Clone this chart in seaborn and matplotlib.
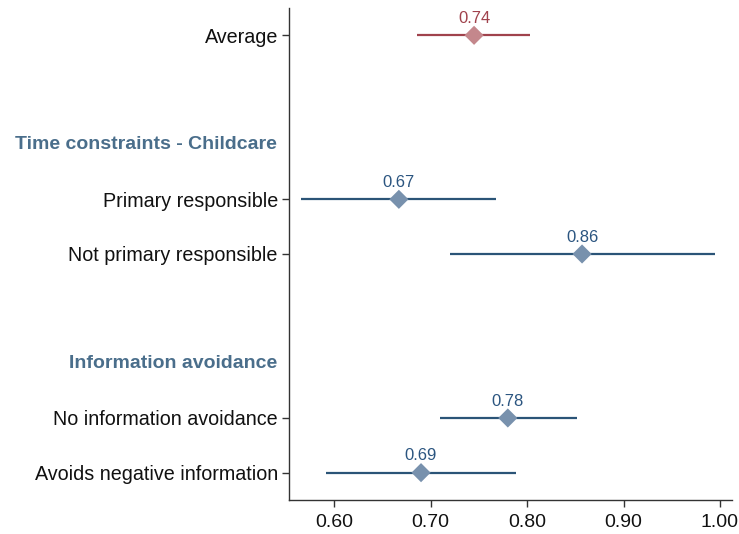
import matplotlib
matplotlib.use("Agg")
import matplotlib.pyplot as plt
import matplotlib.transforms as mtransforms
import seaborn as sns
import pandas as pd

# ---- data ----
row_labels = ["Average", "Primary responsible", "Not primary responsible",
              "No information avoidance", "Avoids negative information"]
row_pos = [0, 3, 4, 7, 8]
estimates = [0.745, 0.667, 0.857, 0.780, 0.690]
ci_low = [0.686, 0.566, 0.720, 0.710, 0.591]
ci_high = [0.803, 0.768, 0.995, 0.852, 0.789]
groups = ["avg", "sub", "sub", "sub", "sub"]
value_labels = ["0.74", "0.67", "0.86", "0.78", "0.69"]
headers = ["Time constraints - Childcare", "Information avoidance"]
header_pos = [2, 6]
x_ticks = [0.60, 0.70, 0.80, 0.90, 1.00]

df = pd.DataFrame({"label": row_labels, "pos": row_pos, "est": estimates,
                   "lo": ci_low, "hi": ci_high, "group": groups, "txt": value_labels})

line_col = {"avg": "#a0424c", "sub": "#2b5477"}
mark_col = {"avg": "#c4878c", "sub": "#7891ad"}
text_col = {"avg": "#a0424c", "sub": "#2b5580"}
header_col = "#4a6e8b"

sns.set_theme(style="white")
plt.rcParams["font.family"] = ["Liberation Sans", "DejaVu Sans"]

fig = plt.figure(figsize=(7.39, 5.34), dpi=100)
ax = fig.add_axes([0.391, 0.0637, 0.5995, 0.9213])

for _, r in df.iterrows():
    ax.hlines(r["pos"], r["lo"], r["hi"], color=line_col[r["group"]], lw=1.6, zorder=2)

sns.scatterplot(data=df, x="est", y="pos", hue="group", palette=mark_col,
                marker="D", s=95, edgecolor="none", legend=False, ax=ax, zorder=3)

for _, r in df.iterrows():
    ax.annotate(r["txt"], (r["est"], r["pos"]), xytext=(0, 12), textcoords="offset points",
                ha="center", va="center", fontsize=12, color=text_col[r["group"]])

ax.set_xlim(0.553, 1.0125)
ax.set_ylim(8.5, -0.5)
ax.set_xticks(x_ticks)
ax.set_xticklabels([f"{v:.2f}" for v in x_ticks], fontsize=14, color="#111111")
ax.set_yticks(row_pos)
ax.set_yticklabels(row_labels, fontsize=14.2, color="#111111")
ax.set_xlabel("")
ax.set_ylabel("")

trans = mtransforms.blended_transform_factory(ax.transAxes, ax.transData)
for h, p in zip(headers, header_pos):
    ax.text(-0.027, p, h, transform=trans, ha="right", va="center",
            fontsize=14, fontweight="bold", color=header_col)

for s in ["top", "right"]:
    ax.spines[s].set_visible(False)
for s in ["left", "bottom"]:
    ax.spines[s].set_color("#333333")
    ax.spines[s].set_linewidth(1.0)
ax.tick_params(axis="both", which="major", length=5, width=1, color="#333333",
               left=True, bottom=True, pad=3)
ax.tick_params(axis="x", pad=5)

fig.savefig("out.png", dpi=100)
